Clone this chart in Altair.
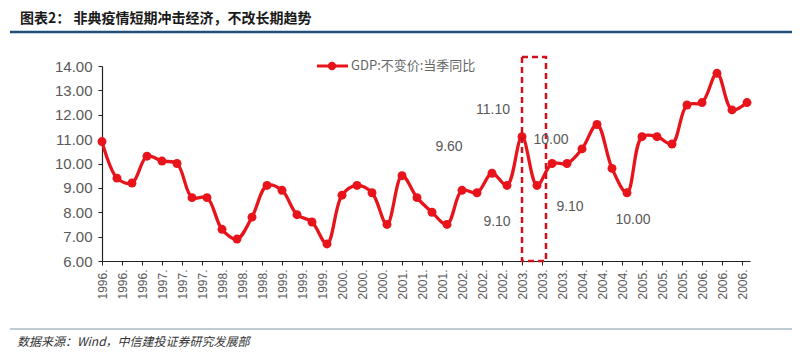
import altair as alt
import pandas as pd

# ---- data ----
years = [1996, 1997, 1998, 1999, 2000, 2001, 2002, 2003, 2004, 2005, 2006]
gdp_yoy = [
    10.9, 9.4, 9.2, 10.3,
    10.1, 10.0, 8.6, 8.6,
    7.3, 6.9, 7.8, 9.1,
    8.9, 7.9, 7.6, 6.7,
    8.7, 9.1, 8.8, 7.5,
    9.5, 8.6, 8.0, 7.5,
    8.9, 8.8, 9.6, 9.1,
    11.1, 9.1, 10.0, 10.0,
    10.6, 11.6, 9.8, 8.8,
    11.1, 11.1, 10.8, 12.4,
    12.5, 13.7, 12.2, 12.5,
]
# months since 1996-01 for each quarterly observation
months = [3 * i for i in range(len(gdp_yoy))]
# axis ticks every 4 months
tick_months = list(range(0, 129, 4))
y_ticks = [6, 7, 8, 9, 10, 11, 12, 13, 14]

# annotations (text, month, value)
ann_text = ["11.10", "9.60", "10.00", "9.10", "9.10", "10.00"]
ann_month = [78.2, 69.4, 89.8, 79.0, 93.6, 106.2]
ann_value = [12.2, 10.68, 10.97, 7.6, 8.22, 7.69]

# highlighted SARS period box
box_x = [84.0, 88.8]
box_y = [6.0, 14.37]

title_text = "图表2：  非典疫情短期冲击经济，不改长期趋势"
source_text = "数据来源：Wind，中信建投证券研究发展部"
series_name = "GDP:不变价:当季同比"

RED = "#e8141c"
GRAY = "#595959"
W, H = 648, 195

df = pd.DataFrame({"month": months, "value": gdp_yoy})
ann_df = pd.DataFrame({"t": ann_text, "month": ann_month, "value": ann_value})
box_df = pd.DataFrame({"x": [box_x[0]], "x2": [box_x[1]], "y": [box_y[0]], "y2": [box_y[1]]})
one = alt.Data(values=[{"a": 1}])

x_scale = alt.Scale(domain=[0, 129.6], nice=False, zero=False)
y_scale = alt.Scale(domain=[6, 14], nice=False, zero=False)

x_axis = alt.Axis(
    values=tick_months,
    labelExpr="floor(datum.value / 12) + 1996 + '.'",
    labelAngle=-90,
    labelAlign="right",
    labelBaseline="middle",
    labelFontSize=12,
    labelColor=GRAY,
    labelFont="Liberation Sans",
    labelPadding=4,
    labelOverlap=False,
    domainColor="#222222",
    domainWidth=1.2,
    tickColor="#222222",
    tickSize=4,
    grid=False,
    title=None,
)
y_axis = alt.Axis(
    values=y_ticks,
    format=".2f",
    labelFontSize=15,
    labelColor=GRAY,
    labelFont="Liberation Sans",
    labelPadding=6,
    labelOverlap=False,
    domainColor="#222222",
    domainWidth=1.2,
    tickColor="#222222",
    tickSize=4,
    grid=False,
    title=None,
)

line = alt.Chart(df).mark_line(
    color=RED, strokeWidth=3.3, interpolate="catmull-rom"
).encode(
    x=alt.X("month:Q", scale=x_scale, axis=x_axis),
    y=alt.Y("value:Q", scale=y_scale, axis=y_axis),
)
pts = alt.Chart(df).mark_circle(color=RED, size=80, opacity=1).encode(
    x=alt.X("month:Q", scale=x_scale, axis=x_axis),
    y=alt.Y("value:Q", scale=y_scale, axis=y_axis),
)

box = alt.Chart(box_df).mark_rect(
    fill=None, fillOpacity=0, stroke="#d0101a", strokeWidth=2.5, strokeDash=[6, 4]
).encode(
    x=alt.X("x:Q", scale=x_scale, axis=x_axis), x2="x2:Q",
    y=alt.Y("y:Q", scale=y_scale, axis=y_axis), y2="y2:Q",
)

ann = alt.Chart(ann_df).mark_text(
    fontSize=14, color=GRAY, font="Liberation Sans"
).encode(
    x=alt.X("month:Q", scale=x_scale, axis=x_axis),
    y=alt.Y("value:Q", scale=y_scale, axis=y_axis),
    text="t:N",
)

# legend
leg_line = alt.Chart(one).mark_rule(color=RED, strokeWidth=3).encode(
    x=alt.value(215), x2=alt.value(246), y=alt.value(0)
)
leg_pt = alt.Chart(one).mark_circle(color=RED, size=70, opacity=1).encode(
    x=alt.value(230), y=alt.value(0)
)
leg_txt = alt.Chart(one).mark_text(
    align="left", baseline="middle", fontSize=13, color="#666666",
    font="Noto Sans CJK SC",
).encode(x=alt.value(249), y=alt.value(0), text=alt.value(series_name))

# title and source decorations
title = alt.Chart(one).mark_text(
    align="left", baseline="middle", fontSize=14, fontWeight="bold",
    color="#1a1a1a", font="Noto Sans CJK SC",
).encode(x=alt.value(-82), y=alt.value(-47), text=alt.value(title_text))
top_rule = alt.Chart(one).mark_rule(color="#1f4e79", strokeWidth=2.5).encode(
    x=alt.value(-92), x2=alt.value(700), y=alt.value(-34)
)
bottom_rule = alt.Chart(one).mark_rule(color="#7a9aa6", strokeWidth=1).encode(
    x=alt.value(-92), x2=alt.value(700), y=alt.value(263)
)
source = alt.Chart(one).mark_text(
    align="left", baseline="middle", fontSize=12, fontStyle="italic",
    color="#333333", font="Noto Sans CJK SC",
).encode(x=alt.value(-85), y=alt.value(276), text=alt.value(source_text))

chart = alt.layer(
    line, pts, box, ann, leg_line, leg_pt, leg_txt, title, top_rule, bottom_rule, source
).properties(
    width=W, height=H,
    autosize=alt.AutoSizeParams(type="none"),
    padding={"left": 94, "top": 58, "right": 42, "bottom": 90},
    background="white",
).configure_view(stroke=None).configure_axis(labelOverlap=False)

chart.save("out.html", embed_options={"renderer": "svg", "actions": False})
